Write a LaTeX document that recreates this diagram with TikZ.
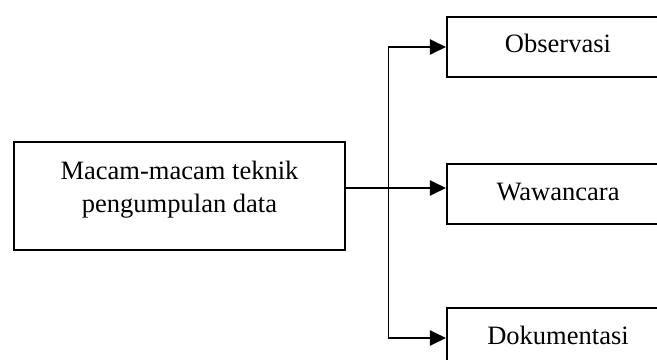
\documentclass[tikz,border=0pt]{standalone}
\usepackage{fontspec}
\setmainfont{Liberation Serif}
\usetikzlibrary{arrows.meta}

\tikzset{
  mainbox/.style={draw,line width=1.4pt,minimum width=8.275cm,minimum height=2.7cm,inner sep=0pt,align=center,text depth=0.45cm},
  sidebox/.style={draw,line width=1.4pt,minimum width=5.55cm,inner sep=0pt,text height=0.9cm,text depth=0.6cm},
  arrowline/.style={line width=1.4pt,-{Triangle[length=0.4cm,width=0.375cm]}},
  spineline/.style={line width=0.7pt}
}

\begin{document}
\begin{tikzpicture}[x=0.025cm,y=-0.025cm,font=\fontsize{18.86pt}{23.4pt}\selectfont]
\clip (0,0) rectangle (657,360);
\useasboundingbox (0,0) rectangle (657,360);
%\draw[step=10,gray,very thin] (0,0) grid (657,360);
\node[mainbox] (teknik) at (179.5,196) {Macam-macam teknik\\pengumpulan data};

\node[sidebox] (observasi) at (558,47) {Observasi};
\node[sidebox] (wawancara) at (558,194) {Wawancara};
\node[sidebox] (dokumentasi) at (558,338) {Dokumentasi};

\coordinate (spine) at (388,188);
\draw[spineline] (spine |- observasi.west) -- (spine |- dokumentasi.west);
\draw[arrowline] (spine |- observasi.west) -- (observasi.west);
\draw[arrowline] (spine |- dokumentasi.west) -- (dokumentasi.west);
\draw[arrowline] (teknik.east |- spine) -- (wawancara.west |- spine);

\end{tikzpicture}
\end{document}
